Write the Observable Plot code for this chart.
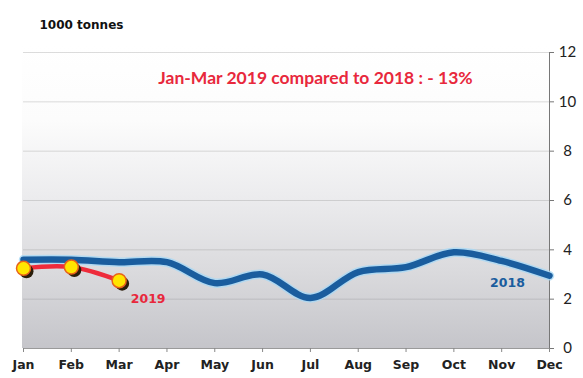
<!DOCTYPE html>
<html><head><meta charset="utf-8">
<script src="https://cdn.jsdelivr.net/npm/d3@7"></script>
<script src="https://cdn.jsdelivr.net/npm/@observablehq/plot@0.6"></script>
<style>body{margin:0;background:#fff;overflow:hidden}</style>
</head><body><div id="chart"></div>
<script>
const months = ["Jan","Feb","Mar","Apr","May","Jun","Jul","Aug","Sep","Oct","Nov","Dec"];
const values2018 = [3.6,3.6,3.5,3.5,2.65,3.0,2.05,3.1,3.3,3.9,3.55,2.95];
const months2019 = ["Jan","Feb","Mar"];
const values2019 = [3.25,3.3,2.75];
const yTicks = [0,2,4,6,8,10,12];
const titleText = "Jan-Mar 2019 compared to 2018 : - 13%";
const unitText = "1000 tonnes";
const label2018 = "2018";
const label2019 = "2019";

const d2018 = months.map((m,i)=>({month:m, value:values2018[i]}));
const d2019 = months2019.map((m,i)=>({month:m, value:values2019[i]}));

function background(index, scales) {
  const g = d3.create("svg:g");
  const grad = g.append("defs").append("linearGradient")
    .attr("id","bgGrad").attr("x1",0).attr("y1",0).attr("x2",0).attr("y2",1);
  [[0,"#ffffff"],[0.25,"#fcfcfc"],[0.5,"#ececee"],[0.75,"#dadadd"],[1,"#c5c5ca"]].forEach(([o,c]) =>
    grad.append("stop").attr("offset",o).attr("stop-color",c));
  const xa = scales.x(months[0]) - 1, xb = scales.x(months[months.length-1]);
  const ya = scales.y(yTicks[yTicks.length-1]) - 8, yb = scales.y(0);
  g.append("rect").attr("x",xa).attr("y",ya).attr("width",xb-xa).attr("height",yb-ya)
    .attr("fill","url(#bgGrad)");
  return g.node();
}

const chart = Plot.plot({
  width: 583,
  height: 378,
  marginLeft: 23,
  marginRight: 34,
  marginTop: 52,
  marginBottom: 30,
  style: {background: "#fff", overflow: "visible"},
  x: {type: "point", domain: months, padding: 0, round: false},
  y: {domain: [0, 12]},
  marks: [
    background,
    Plot.gridY(yTicks.slice(1), {stroke: "#8a8a8a", strokeOpacity: 0.3}),
    Plot.ruleY([0], {stroke: "#9a9a9a"}),
    Plot.ruleX([months[months.length-1]], {y1: 0, y2: 12, stroke: "#777"}),
    Plot.axisX({tickSize: 4, tickPadding: 8, stroke: "#888", fontFamily: "DejaVu Sans", fontWeight: "bold", fontSize: 12.5, fill: "#222", label: null}),
    Plot.axisY({anchor: "right", ticks: yTicks, tickSize: 4, tickPadding: 14, textAnchor: "middle", stroke: "#777", fontFamily: "Lato", fontSize: 15, fill: "#222", label: null}),
    Plot.line(d2018, {x: "month", y: "value", curve: "catmull-rom", stroke: "#a8d8f5", strokeWidth: 9.5, strokeOpacity: 0.8}),
    Plot.line(d2018, {x: "month", y: "value", curve: "catmull-rom", stroke: "#1a5d9e", strokeWidth: 6.5}),
    Plot.line(d2019, {x: "month", y: "value", curve: "catmull-rom", stroke: "#ee2b3b", strokeWidth: 4.5}),
    Plot.dot(d2019, {x: "month", y: "value", r: 7, fill: "#2a1d0a", dx: 3, dy: 3}),
    Plot.dot(d2019, {x: "month", y: "value", r: 7, fill: "#ffe500", stroke: "#e8621a", strokeWidth: 1.5}),
    Plot.text(d2019.slice(-1), {x: "month", y: "value", text: () => label2019, dx: 29, dy: 18, fill: "#e8283c", fontFamily: "DejaVu Sans", fontWeight: "bold", fontSize: 12.5}),
    Plot.text(d2018.slice(-1), {x: "month", y: "value", text: () => label2018, dx: -42, dy: 7, fill: "#1a5d9e", fontFamily: "DejaVu Sans", fontWeight: "bold", fontSize: 12.5}),
    Plot.text([titleText], {frameAnchor: "top", dx: 29, dy: 19, fill: "#e8283c", fontFamily: "Lato", fontWeight: "bold", fontSize: 17.5}),
    Plot.text([unitText], {frameAnchor: "top-left", textAnchor: "start", dx: 16, dy: -32, fill: "#111", fontFamily: "DejaVu Sans", fontWeight: "bold", fontSize: 12})
  ]
});
document.getElementById("chart").append(chart);
</script>
</body></html>
